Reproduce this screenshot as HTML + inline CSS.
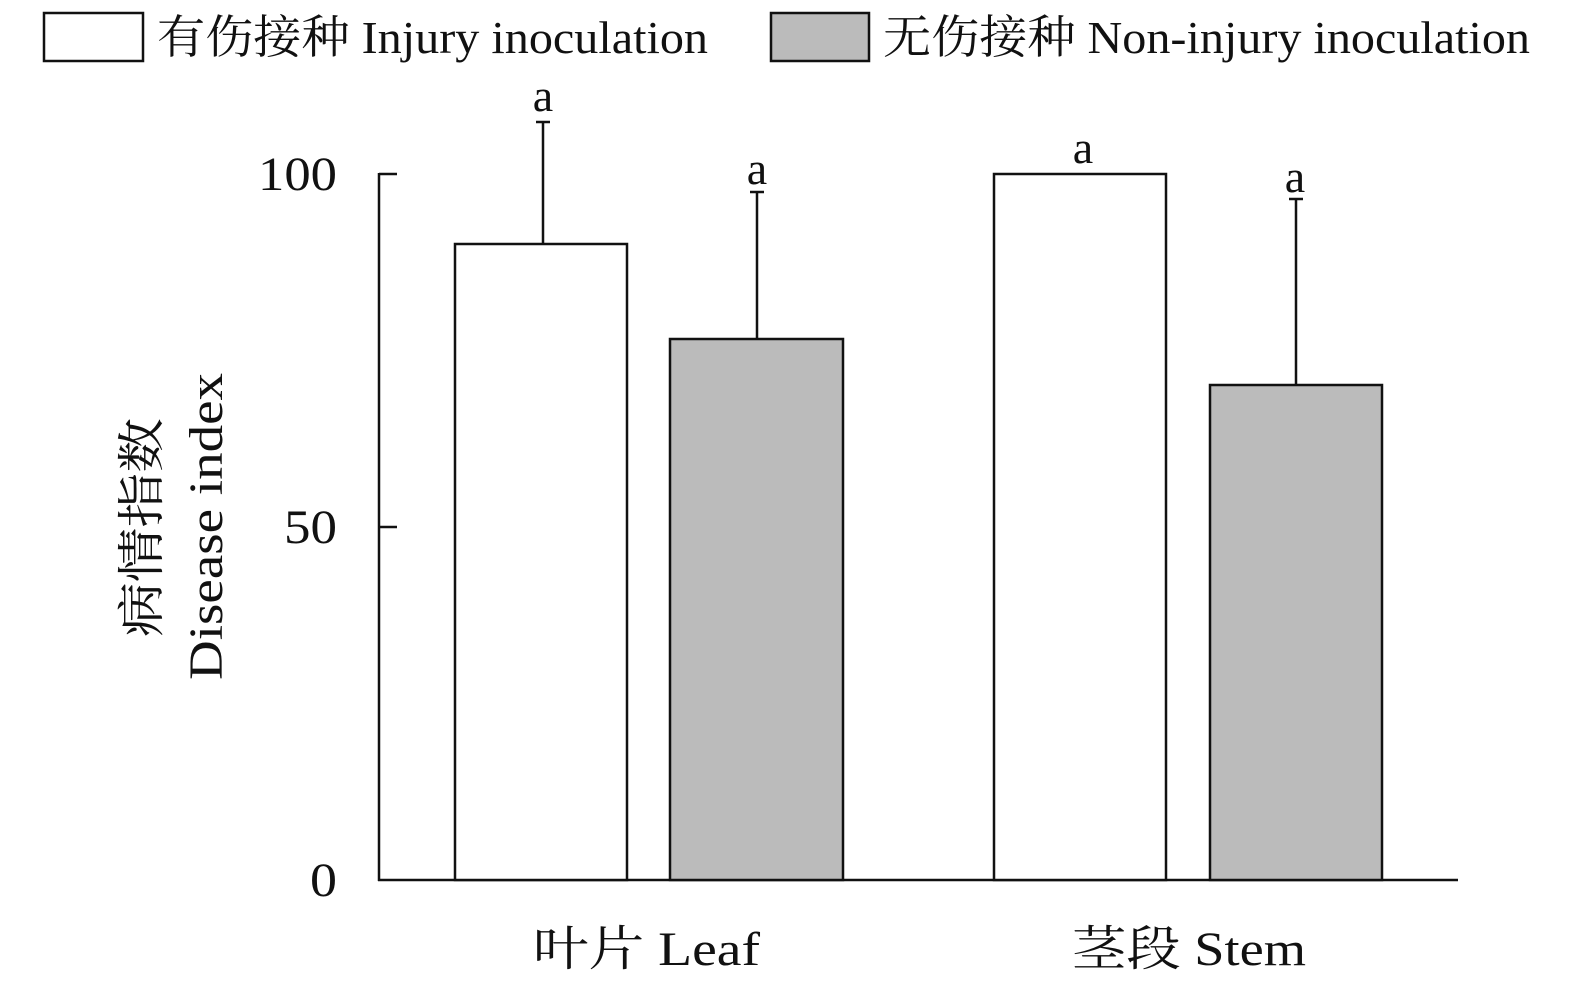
<!DOCTYPE html>
<html><head><meta charset="utf-8"><style>
body{margin:0;background:#fff;}
svg text{font-family:"Liberation Serif","Noto Serif CJK SC",serif;fill:#111;}
</style></head><body>
<svg width="1575" height="994" viewBox="0 0 1575 994" xmlns="http://www.w3.org/2000/svg">
<g stroke="#111" stroke-width="2.5" fill="none">
<rect x="44" y="13" width="99" height="48" fill="#fff"/>
<rect x="771" y="13" width="98" height="48" fill="#bbb"/>
<line x1="379" y1="173" x2="379" y2="881"/>
<line x1="378" y1="880" x2="1458" y2="880"/>
<line x1="379" y1="174" x2="397" y2="174"/>
<line x1="379" y1="527" x2="397" y2="527"/>
<rect x="455" y="244" width="172" height="636" fill="#fff"/>
<rect x="670" y="339" width="173" height="541" fill="#bbb"/>
<rect x="994" y="174" width="172" height="706" fill="#fff"/>
<rect x="1210" y="385" width="172" height="495" fill="#bbb"/>
<line x1="543" y1="244" x2="543" y2="122"/><line x1="536" y1="122" x2="550" y2="122"/>
<line x1="757" y1="339" x2="757" y2="192"/><line x1="750" y1="192" x2="764" y2="192"/>
<line x1="1296" y1="385" x2="1296" y2="199"/><line x1="1289" y1="199" x2="1303" y2="199"/>
</g>
<g font-size="46">
<text x="157" y="53" textLength="551" lengthAdjust="spacingAndGlyphs">有伤接种 Injury inoculation</text>
<text x="883" y="53" textLength="647" lengthAdjust="spacingAndGlyphs">无伤接种 Non-injury inoculation</text>
</g>
<g font-size="48">
<text x="258" y="190" textLength="79" lengthAdjust="spacingAndGlyphs">100</text>
<text x="284" y="543" textLength="53" lengthAdjust="spacingAndGlyphs">50</text>
<text x="310" y="896" textLength="27" lengthAdjust="spacingAndGlyphs">0</text>
</g>
<g font-size="46" text-anchor="middle">
<text x="543" y="111">a</text>
<text x="757" y="184">a</text>
<text x="1083" y="163">a</text>
<text x="1295" y="192">a</text>
</g>
<g font-size="48">
<text x="533" y="965" textLength="227" lengthAdjust="spacingAndGlyphs">叶片 Leaf</text>
<text x="1072" y="965" textLength="234" lengthAdjust="spacingAndGlyphs">茎段 Stem</text>
<text transform="translate(158,637) rotate(-90)" textLength="219" lengthAdjust="spacingAndGlyphs">病情指数</text>
<text transform="translate(222,680) rotate(-90)" textLength="307" lengthAdjust="spacingAndGlyphs">Disease index</text>
</g>
</svg>
</body></html>
